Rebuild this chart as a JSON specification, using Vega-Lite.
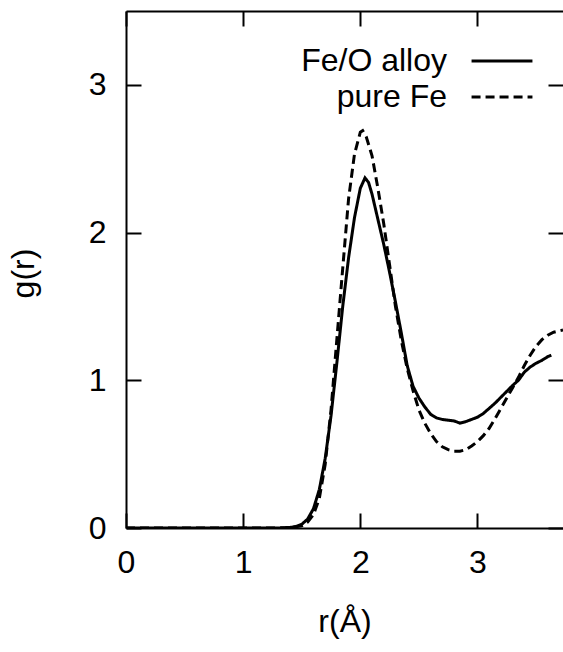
{
  "$schema": "https://vega.github.io/schema/vega-lite/v6.json",
  "width": 437,
  "height": 517,
  "autosize": "none",
  "padding": {"left": 126, "top": 11, "right": 0, "bottom": 124},
  "background": "white",
  "config": {
    "view": {"stroke": null},
    "font": "Liberation Sans",
    "axis": {
      "labelFont": "Liberation Sans",
      "labelFontSize": 32,
      "labelColor": "black",
      "labelFlush": false,
      "titleFont": "Liberation Sans",
      "titleFontSize": 32,
      "titleFontWeight": "normal",
      "titleColor": "black",
      "domainColor": "black",
      "domainWidth": 2,
      "tickColor": "black",
      "tickWidth": 2,
      "tickSize": -15,
      "grid": false
    },
    "legend": {
      "labelFont": "Liberation Sans",
      "labelFontSize": 32,
      "labelColor": "black"
    }
  },
  "data": {
    "values": [
      {"r": 0.0, "g": 0.0, "series": "Fe/O alloy"},
      {"r": 1.0, "g": 0.0, "series": "Fe/O alloy"},
      {"r": 1.3, "g": 0.0, "series": "Fe/O alloy"},
      {"r": 1.4, "g": 0.004, "series": "Fe/O alloy"},
      {"r": 1.45, "g": 0.01, "series": "Fe/O alloy"},
      {"r": 1.5, "g": 0.025, "series": "Fe/O alloy"},
      {"r": 1.55, "g": 0.06, "series": "Fe/O alloy"},
      {"r": 1.6, "g": 0.13, "series": "Fe/O alloy"},
      {"r": 1.65, "g": 0.26, "series": "Fe/O alloy"},
      {"r": 1.7, "g": 0.47, "series": "Fe/O alloy"},
      {"r": 1.75, "g": 0.76, "series": "Fe/O alloy"},
      {"r": 1.8, "g": 1.12, "series": "Fe/O alloy"},
      {"r": 1.85, "g": 1.5, "series": "Fe/O alloy"},
      {"r": 1.9, "g": 1.83, "series": "Fe/O alloy"},
      {"r": 1.95, "g": 2.1, "series": "Fe/O alloy"},
      {"r": 2.0, "g": 2.3, "series": "Fe/O alloy"},
      {"r": 2.04, "g": 2.37, "series": "Fe/O alloy"},
      {"r": 2.07, "g": 2.34, "series": "Fe/O alloy"},
      {"r": 2.1, "g": 2.26, "series": "Fe/O alloy"},
      {"r": 2.15, "g": 2.09, "series": "Fe/O alloy"},
      {"r": 2.2, "g": 1.92, "series": "Fe/O alloy"},
      {"r": 2.25, "g": 1.73, "series": "Fe/O alloy"},
      {"r": 2.3, "g": 1.53, "series": "Fe/O alloy"},
      {"r": 2.35, "g": 1.32, "series": "Fe/O alloy"},
      {"r": 2.4, "g": 1.1, "series": "Fe/O alloy"},
      {"r": 2.45, "g": 0.96, "series": "Fe/O alloy"},
      {"r": 2.5, "g": 0.88, "series": "Fe/O alloy"},
      {"r": 2.55, "g": 0.82, "series": "Fe/O alloy"},
      {"r": 2.6, "g": 0.77, "series": "Fe/O alloy"},
      {"r": 2.65, "g": 0.745, "series": "Fe/O alloy"},
      {"r": 2.7, "g": 0.735, "series": "Fe/O alloy"},
      {"r": 2.75, "g": 0.73, "series": "Fe/O alloy"},
      {"r": 2.8, "g": 0.725, "series": "Fe/O alloy"},
      {"r": 2.85, "g": 0.71, "series": "Fe/O alloy"},
      {"r": 2.9, "g": 0.72, "series": "Fe/O alloy"},
      {"r": 2.95, "g": 0.735, "series": "Fe/O alloy"},
      {"r": 3.0, "g": 0.75, "series": "Fe/O alloy"},
      {"r": 3.05, "g": 0.775, "series": "Fe/O alloy"},
      {"r": 3.1, "g": 0.81, "series": "Fe/O alloy"},
      {"r": 3.15, "g": 0.845, "series": "Fe/O alloy"},
      {"r": 3.2, "g": 0.885, "series": "Fe/O alloy"},
      {"r": 3.25, "g": 0.925, "series": "Fe/O alloy"},
      {"r": 3.3, "g": 0.965, "series": "Fe/O alloy"},
      {"r": 3.35, "g": 1.0, "series": "Fe/O alloy"},
      {"r": 3.4, "g": 1.055, "series": "Fe/O alloy"},
      {"r": 3.45, "g": 1.09, "series": "Fe/O alloy"},
      {"r": 3.5, "g": 1.115, "series": "Fe/O alloy"},
      {"r": 3.55, "g": 1.135, "series": "Fe/O alloy"},
      {"r": 3.6, "g": 1.16, "series": "Fe/O alloy"},
      {"r": 3.63, "g": 1.17, "series": "Fe/O alloy"},
      {"r": 0.0, "g": 0.0, "series": "pure Fe"},
      {"r": 1.0, "g": 0.0, "series": "pure Fe"},
      {"r": 1.3, "g": 0.0, "series": "pure Fe"},
      {"r": 1.4, "g": 0.002, "series": "pure Fe"},
      {"r": 1.5, "g": 0.015, "series": "pure Fe"},
      {"r": 1.55, "g": 0.04, "series": "pure Fe"},
      {"r": 1.6, "g": 0.09, "series": "pure Fe"},
      {"r": 1.65, "g": 0.2, "series": "pure Fe"},
      {"r": 1.7, "g": 0.43, "series": "pure Fe"},
      {"r": 1.75, "g": 0.8, "series": "pure Fe"},
      {"r": 1.8, "g": 1.28, "series": "pure Fe"},
      {"r": 1.85, "g": 1.76, "series": "pure Fe"},
      {"r": 1.9, "g": 2.23, "series": "pure Fe"},
      {"r": 1.95, "g": 2.53, "series": "pure Fe"},
      {"r": 2.0, "g": 2.68, "series": "pure Fe"},
      {"r": 2.02, "g": 2.69, "series": "pure Fe"},
      {"r": 2.05, "g": 2.65, "series": "pure Fe"},
      {"r": 2.1, "g": 2.52, "series": "pure Fe"},
      {"r": 2.15, "g": 2.3, "series": "pure Fe"},
      {"r": 2.2, "g": 2.06, "series": "pure Fe"},
      {"r": 2.25, "g": 1.78, "series": "pure Fe"},
      {"r": 2.3, "g": 1.5, "series": "pure Fe"},
      {"r": 2.35, "g": 1.27, "series": "pure Fe"},
      {"r": 2.4, "g": 1.08, "series": "pure Fe"},
      {"r": 2.45, "g": 0.93, "series": "pure Fe"},
      {"r": 2.5, "g": 0.8, "series": "pure Fe"},
      {"r": 2.55, "g": 0.71, "series": "pure Fe"},
      {"r": 2.6, "g": 0.64, "series": "pure Fe"},
      {"r": 2.65, "g": 0.585, "series": "pure Fe"},
      {"r": 2.7, "g": 0.55, "series": "pure Fe"},
      {"r": 2.75, "g": 0.53, "series": "pure Fe"},
      {"r": 2.8, "g": 0.52, "series": "pure Fe"},
      {"r": 2.85, "g": 0.52, "series": "pure Fe"},
      {"r": 2.9, "g": 0.53, "series": "pure Fe"},
      {"r": 2.95, "g": 0.555, "series": "pure Fe"},
      {"r": 3.0, "g": 0.585, "series": "pure Fe"},
      {"r": 3.05, "g": 0.625, "series": "pure Fe"},
      {"r": 3.1, "g": 0.675, "series": "pure Fe"},
      {"r": 3.15, "g": 0.74, "series": "pure Fe"},
      {"r": 3.2, "g": 0.81, "series": "pure Fe"},
      {"r": 3.25, "g": 0.88, "series": "pure Fe"},
      {"r": 3.3, "g": 0.95, "series": "pure Fe"},
      {"r": 3.35, "g": 1.02, "series": "pure Fe"},
      {"r": 3.4, "g": 1.1, "series": "pure Fe"},
      {"r": 3.45, "g": 1.17, "series": "pure Fe"},
      {"r": 3.5, "g": 1.23, "series": "pure Fe"},
      {"r": 3.55, "g": 1.275, "series": "pure Fe"},
      {"r": 3.6, "g": 1.305, "series": "pure Fe"},
      {"r": 3.65, "g": 1.325, "series": "pure Fe"},
      {"r": 3.73, "g": 1.34, "series": "pure Fe"}
    ]
  },
  "layer": [
    {
      "mark": {"type": "line", "color": "black", "strokeWidth": 3, "clip": true},
      "encoding": {
        "x": {
          "field": "r", "type": "quantitative",
          "scale": {"domain": [0, 3.73], "nice": false, "zero": false},
          "axis": {"orient": "bottom", "values": [0, 1, 2, 3], "title": "r(Å)", "labelPadding": 34, "titlePadding": 28, "domain": true}
        },
        "y": {
          "field": "g", "type": "quantitative",
          "scale": {"domain": [0, 3.5], "nice": false},
          "axis": {"orient": "left", "values": [0, 1, 2, 3], "title": "g(r)", "labelPadding": 35, "titlePadding": 48, "titleY": 262, "domain": true}
        },
        "strokeDash": {
          "field": "series", "type": "nominal",
          "scale": {"domain": ["Fe/O alloy", "pure Fe"], "range": [[1, 0], [9, 5]]},
          "legend": {
            "title": null,
            "orient": "none",
            "legendX": 360,
            "legendY": 34,
            "padding": 0,
            "symbolType": "M-6,0L6,0",
            "symbolSize": 103,
            "symbolStrokeWidth": 3,
            "symbolStrokeColor": "black",
            "symbolFillColor": "transparent",
            "labelAlign": "right",
            "labelOffset": -71,
            "rowPadding": 4
          }
        }
      }
    },
    {
      "mark": {"type": "line", "strokeOpacity": 0},
      "encoding": {
        "x": {
          "field": "r", "type": "quantitative",
          "axis": {"orient": "top", "values": [0, 1, 2, 3], "title": null, "labels": false, "domain": true}
        },
        "y": {
          "field": "g", "type": "quantitative",
          "axis": {"orient": "right", "values": [0, 1, 2, 3], "title": null, "labels": false, "domain": false}
        },
        "detail": {"field": "series", "type": "nominal"}
      }
    }
  ],
  "resolve": {"axis": {"x": "independent", "y": "independent"}}
}
